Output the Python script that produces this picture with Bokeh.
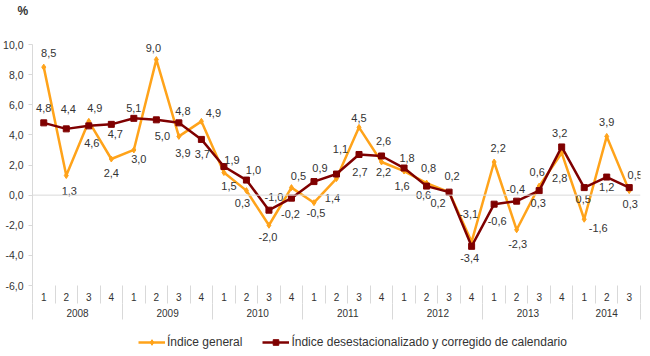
from bokeh.plotting import figure
from bokeh.layouts import column
from bokeh.models import (Range1d, LinearAxis, FixedTicker, Span, Legend,
                          LegendItem, ColumnDataSource, Title)
from bokeh.core.properties import value
from bokeh.embed import file_html
from bokeh.resources import INLINE

# ---------------- data ----------------
years = ["2008", "2009", "2010", "2011", "2012", "2013", "2014"]
quarters_per_year = [4, 4, 4, 4, 4, 4, 3]
quarter_labels = ["1", "2", "3", "4"] * 6 + ["1", "2", "3"]

general = [8.5, 1.3, 4.9, 2.4,
           3.0, 9.0, 3.9, 4.9,
           1.5, 0.3, -2.0, 0.5,
           -0.5, 1.1, 4.5, 2.2,
           1.6, 0.8, 0.2, -3.1,
           2.2, -2.3, 0.6, 2.8,
           -1.6, 3.9, 0.3]
deseason = [4.8, 4.4, 4.6, 4.7,
            5.1, 5.0, 4.8, 3.7,
            1.9, 1.0, -1.0, -0.2,
            0.9, 1.4, 2.7, 2.6,
            1.8, 0.6, 0.2, -3.4,
            -0.6, -0.4, 0.3, 3.2,
            0.5, 1.2, 0.5]

y_ticks = [-6, -4, -2, 0, 2, 4, 6, 8, 10]
y_tick_labels = ["-6,0", "-4,0", "-2,0", "0,0", "2,0", "4,0", "6,0", "8,0", "10,0"]

series_names = ["Índice general", "Índice desestacionalizado y corregido de calendario"]
unit_label = "%"

# label placement offsets (screen px, y down)
gen_dx = [5, 3, 6, 0, 5, -3, 4, 12, 5, -4, -1, 7, 2, 4, 0, 2, -2, 2, 3, -3, 4, 1, -2, -2, 14, 0, 1]
gen_dy = [-14, 15, -13, 14, 9, -12, 17, -8, 13, 12, 12, -12, 10, -30, -9, 10, 15, -15, -16, -28, -14, 14, -14, 25, 9, -14, 13]
des_dx = [0, 2, 3, 4, 0, 6, 4, 1, 8, 7, 5, -1, 6, -4, 1, 2, 3, -3, -11, -2, 3, -1, -1, -2, -1, 0, 6]
des_dy = [-15, -20, 17, 10, -10, 16, -12, 15, -7, -10, -13, 16, -14, 24, 18, -15, -10, 9, 11, 12, 17, -12, 12, -14, 11, 10, -13]

ORANGE = "#FFA31A"
MAROON = "#7F0000"
GRAY = "#D9D9D9"
TXT = "#333333"
FONT = "Liberation Sans"


def fmt(v):
    return f"{v:.1f}".replace(".", ",")


def strip(h):
    f = figure(width=650, height=h, output_backend="svg", toolbar_location=None,
               x_axis_type=None, y_axis_type=None,
               x_range=Range1d(-1000, -999), y_range=Range1d(-1000, -999),
               min_border_left=0, min_border_right=0,
               min_border_top=0, min_border_bottom=0)
    f.outline_line_color = None
    f.grid.visible = False
    return f


n = len(general)
xs = list(range(n))

# ---------------- header strip ("%") ----------------
head = strip(24)
head.title = Title(text=unit_label, align="left", offset=-15, standoff=6,
                   vertical_align="top", text_font=FONT, text_font_size="12px",
                   text_font_style="bold", text_color=TXT)

# ---------------- main plot ----------------
p = figure(width=650, height=305, output_backend="svg", toolbar_location=None,
           x_axis_type=None, x_range=Range1d(-0.5, n - 0.5),
           y_range=Range1d(-6, 10.6),
           min_border_left=32, min_border_right=10,
           min_border_top=11, min_border_bottom=44)
p.outline_line_color = None
p.ygrid.visible = False
p.background_fill_color = "white"
p.border_fill_color = "white"

# y axis
ya = p.yaxis[0]
ya.ticker = FixedTicker(ticks=y_ticks)
ya.major_label_overrides = {t: l for t, l in zip(y_ticks, y_tick_labels)}
ya.bounds = (-6, 10)
ya.axis_line_color = GRAY
ya.major_tick_line_color = GRAY
ya.major_tick_out = 4
ya.major_tick_in = 0
ya.minor_tick_line_color = None
ya.major_label_standoff = 5
ya.major_label_text_font = FONT
ya.major_label_text_font_size = "10.5px"
ya.major_label_text_color = TXT

# zero line
p.add_layout(Span(location=0, dimension="width", line_color=GRAY, line_width=1))

# quarter axis
bounds = [k - 0.5 for k in range(n + 1)]
qa = LinearAxis(ticker=FixedTicker(ticks=xs, minor_ticks=bounds),
                major_label_overrides={i: q for i, q in enumerate(quarter_labels)})
qa.axis_line_color = None
qa.major_tick_line_color = None
qa.major_tick_out = 0
qa.major_tick_in = 0
qa.minor_tick_line_color = GRAY
qa.minor_tick_out = 18
qa.minor_tick_in = 0
qa.major_label_standoff = -11
qa.major_label_text_font = FONT
qa.major_label_text_font_size = "10px"
qa.major_label_text_color = TXT
p.add_layout(qa, "below")

# year axis
starts = []
acc = 0
for c in quarters_per_year:
    starts.append(acc)
    acc += c
year_centers = [s + (c - 1) / 2 for s, c in zip(starts, quarters_per_year)]
year_bounds = [s - 0.5 for s in starts] + [n - 0.5]
ya2 = LinearAxis(ticker=FixedTicker(ticks=year_centers, minor_ticks=year_bounds),
                 major_label_overrides={c: y for c, y in zip(year_centers, years)})
ya2.axis_line_color = None
ya2.major_tick_line_color = None
ya2.major_tick_out = 0
ya2.major_tick_in = 0
ya2.minor_tick_line_color = GRAY
ya2.minor_tick_out = 16
ya2.minor_tick_in = 0
ya2.major_label_standoff = -11
ya2.major_label_text_font = FONT
ya2.major_label_text_font_size = "10px"
ya2.major_label_text_color = TXT
p.add_layout(ya2, "below")

# series
src_g = ColumnDataSource(dict(x=xs, y=general, label=[fmt(v) for v in general], dx=gen_dx, dy=gen_dy))
src_d = ColumnDataSource(dict(x=xs, y=deseason, label=[fmt(v) for v in deseason], dx=des_dx, dy=des_dy))

line_g = dict(line_color=ORANGE, line_width=2.5)
mark_g = dict(marker="diamond", size=6, fill_color=ORANGE, line_color=ORANGE)
line_d = dict(line_color=MAROON, line_width=2.5)
mark_d = dict(marker="square", size=6, fill_color=MAROON, line_color=MAROON)

p.line("x", "y", source=src_g, **line_g)
p.scatter("x", "y", source=src_g, **mark_g)
p.line("x", "y", source=src_d, **line_d)
p.scatter("x", "y", source=src_d, **mark_d)

for src in (src_g, src_d):
    p.text("x", "y", text="label", x_offset="dx", y_offset="dy", source=src,
           text_align="center", text_baseline="middle",
           text_font=value(FONT), text_font_size="11px", text_color=TXT)

# ---------------- legend strip ----------------
lgfig = strip(27)
kg_l = lgfig.line("x", "y", source=src_g, **line_g)
kg_m = lgfig.scatter("x", "y", source=src_g, **mark_g)
kd_l = lgfig.line("x", "y", source=src_d, **line_d)
kd_m = lgfig.scatter("x", "y", source=src_d, **mark_d)

legend = Legend(items=[LegendItem(label=series_names[0], renderers=[kg_l, kg_m]),
                       LegendItem(label=series_names[1], renderers=[kd_l, kd_m])],
                orientation="horizontal", location=(106, 7),
                border_line_color=None, background_fill_alpha=0,
                padding=0, margin=0, spacing=20, label_standoff=2,
                glyph_width=27, glyph_height=14, label_height=14,
                label_text_font=FONT, label_text_font_size="12px",
                label_text_color=TXT)
lgfig.add_layout(legend)

layout = column(head, p, lgfig, spacing=0)
open("out.html", "w").write(file_html(layout, INLINE))
